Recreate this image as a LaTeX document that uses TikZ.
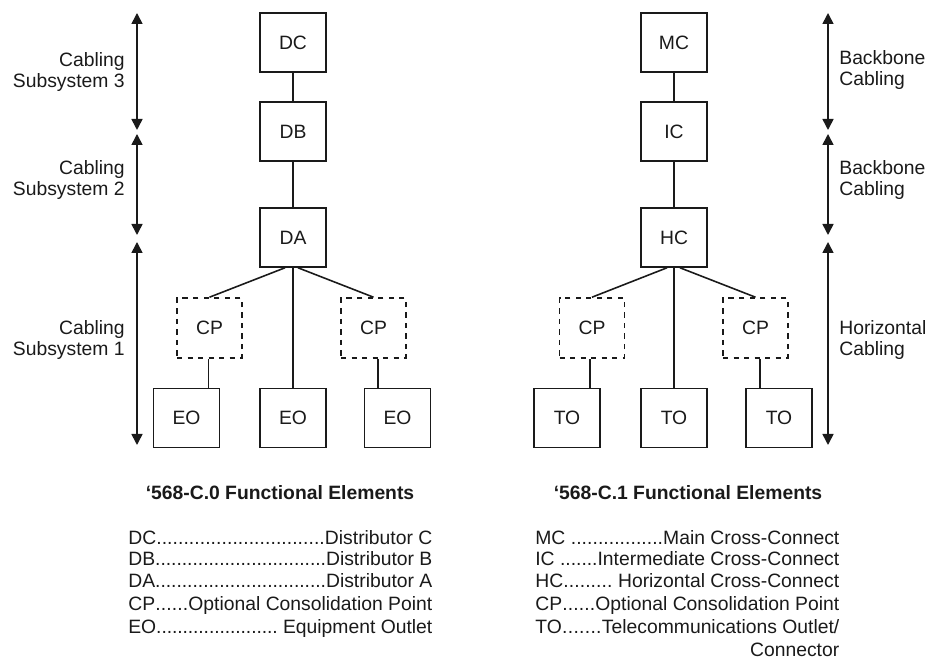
\documentclass[tikz,border=0pt]{standalone}
\usepackage{fontspec}
\setmainfont{Liberation Sans}
\usepackage{tikz}
\usetikzlibrary{arrows.meta, positioning}
\definecolor{ink}{HTML}{1A1A1A}
\newcommand{\legline}[2]{\makebox[6.08cm]{#1\xleaders\hbox to 3pt{\hss.\hss}\hfill#2}}

\begin{document}
\begin{tikzpicture}[
    x=0.02cm, y=-0.02cm,
    >={Triangle[length=0.22cm, width=0.22cm]},
    font=\fontsize{11}{12.5}\selectfont,
    elem/.style={draw=ink, line width=0.9pt, minimum width=1.32cm, minimum height=1.18cm, inner sep=0pt, text=ink},
    cpbox/.style={elem, dashed, minimum width=1.3cm, minimum height=1.2cm},
    link/.style={draw=ink, line width=0.9pt},
    span/.style={<->, draw=ink, line width=0.9pt},
    sidelabel/.style={text=ink, inner sep=0pt},
]
    \useasboundingbox (0,0) rectangle (930,661);

    % Left tree: '568-C.0
    \node[elem] (dc) at (293, 42.5) {DC};
    \node[elem] (db) at (293, 131.5) {DB};
    \node[elem] (da) at (293, 237.5) {DA};
    \node[cpbox] (cpa) at (209.5, 328) {CP};
    \node[cpbox] (cpb) at (373.5, 328) {CP};
    \node[elem] (eoa) at (186.5, 418) {EO};
    \node[elem] (eob) at (293, 418) {EO};
    \node[elem] (eoc) at (397.5, 418) {EO};

    \draw[link] (dc) -- (db);
    \draw[link] (db) -- (da);
    \draw[link] (da.south) ++(-8,0) coordinate (dasw) (dasw) -- (cpa.north);
    \draw[link] (da.south) ++(5,0) coordinate (dase) (dase) -- (cpb.north);
    \draw[link] (da) -- (eob);
    \draw[link] (cpa.south -| eoa.north) ++(22,0) coordinate (cpaout) (cpaout) -- (cpaout |- eoa.north);
    \draw[link] (cpb.south) ++(4.5,0) coordinate (cpbout) (cpbout) -- (cpbout |- eoc.north);

    % Left spans
    \coordinate (la1) at (137, 13);
    \coordinate (la2) at (137, 130);
    \coordinate (lb1) at (137, 134);
    \coordinate (lb2) at (137, 235);
    \coordinate (lc1) at (137, 242);
    \coordinate (lc2) at (137, 445);
    \draw[span] (la1) -- (la2);
    \draw[span] (lb1) -- (lb2);
    \draw[span] (lc1) -- (lc2);

    \node[sidelabel, align=right, anchor=east] (cs3) at (125, 72) {Cabling\\Subsystem 3};
    \node[sidelabel, align=right, anchor=east] (cs2) at (125, 180) {Cabling\\Subsystem 2};
    \node[sidelabel, align=right, anchor=east] (cs1) at (125, 340) {Cabling\\Subsystem 1};

    % Right tree: '568-C.1
    \node[elem] (mc) at (674, 42.5) {MC};
    \node[elem] (ic) at (674, 131.5) {IC};
    \node[elem] (hc) at (674, 237.5) {HC};
    \node[cpbox] (cpc) at (592, 328) {CP};
    \node[cpbox] (cpd) at (755.5, 328) {CP};
    \node[elem] (toa) at (567, 418) {TO};
    \node[elem] (tob) at (674, 418) {TO};
    \node[elem] (toc) at (779, 418) {TO};

    \draw[link] (mc) -- (ic);
    \draw[link] (ic) -- (hc);
    \draw[link] (hc.south) ++(-7,0) coordinate (hcsw) (hcsw) -- (cpc.north);
    \draw[link] (hc.south) ++(6,0) coordinate (hcse) (hcse) -- (cpd.north);
    \draw[link] (hc) -- (tob);
    \draw[link] (cpc.south) ++(-2,0) coordinate (cpcout) (cpcout) -- (cpcout |- toa.north);
    \draw[link] (cpd.south) ++(4.5,0) coordinate (cpdout) (cpdout) -- (cpdout |- toc.north);

    % Right spans
    \coordinate (ra1) at (828, 13);
    \coordinate (ra2) at (828, 130);
    \coordinate (rb1) at (828, 134);
    \coordinate (rb2) at (828, 235);
    \coordinate (rc1) at (828, 242);
    \coordinate (rc2) at (828, 445);
    \draw[span] (ra1) -- (ra2);
    \draw[span] (rb1) -- (rb2);
    \draw[span] (rc1) -- (rc2);

    \node[sidelabel, align=left, anchor=west] (bb1) at (839, 70) {Backbone\\Cabling};
    \node[sidelabel, align=left, anchor=west] (bb2) at (839, 180) {Backbone\\Cabling};
    \node[sidelabel, align=left, anchor=west] (hz) at (839, 340) {Horizontal\\Cabling};

    % Legends
    \node[text=ink, font=\fontsize{11}{12.5}\selectfont\bfseries] (ttl0) at (280, 493) {`568-C.0 Functional Elements};
    \node[text=ink, font=\fontsize{11}{12.5}\selectfont\bfseries] (ttl1) at (688, 493) {`568-C.1 Functional Elements};

    \node[text=ink, anchor=north west, inner sep=0pt, align=left] (leg0) at (128, 530) {
        \legline{DC}{Distributor C}\\[-0.2pt]
        \legline{DB}{Distributor B}\\[-0.2pt]
        \legline{DA}{Distributor A}\\[0.8pt]
        \legline{CP}{Optional Consolidation Point}\\[0.5pt]
        \legline{EO}{\ Equipment Outlet}
    };
    \node[text=ink, anchor=north west, inner sep=0pt, align=left] (leg1) at (535, 530) {
        \legline{MC\ }{Main Cross-Connect}\\[-0.2pt]
        \legline{IC\ }{Intermediate Cross-Connect}\\[-0.2pt]
        \legline{HC}{\ Horizontal Cross-Connect}\\[0.8pt]
        \legline{CP}{Optional Consolidation Point}\\[0.5pt]
        \legline{TO}{Telecommunications Outlet/}\\[0.2pt]
        \makebox[6.08cm][r]{Connector}
    };
\end{tikzpicture}
\end{document}
